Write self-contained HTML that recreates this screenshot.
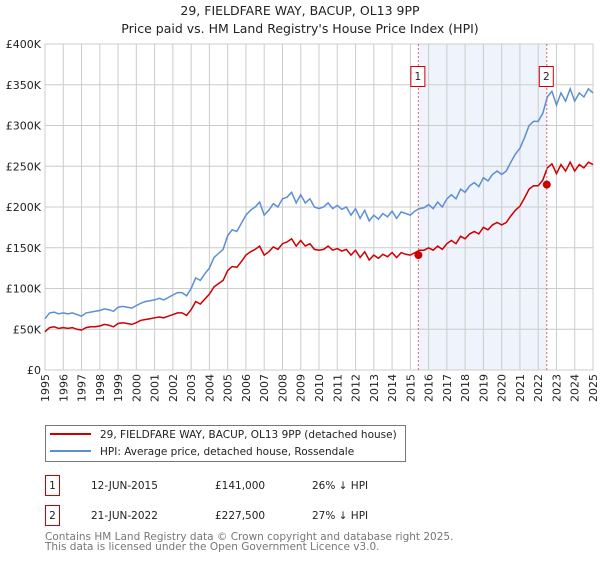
<!DOCTYPE html>
<html><head><meta charset="utf-8"><style>
body{margin:0;background:#fff;font-family:"Liberation Sans","DejaVu Sans",sans-serif;}
svg text{font-family:"DejaVu Sans","Liberation Sans",sans-serif;}
</style></head><body>
<svg id="c" width="600" height="560" viewBox="0 0 600 560" xmlns="http://www.w3.org/2000/svg">
<text x="300" y="15" text-anchor="middle" font-size="12.5" fill="#222">29, FIELDFARE WAY, BACUP, OL13 9PP</text>
<text x="300" y="33" text-anchor="middle" font-size="12.5" fill="#222">Price paid vs. HM Land Registry's House Price Index (HPI)</text>
<g id="grid"></g><g id="marks"></g><g id="axes"></g>
<g>
<rect x="45.5" y="425.5" width="360" height="36" fill="#fff" stroke="#777"/>
<line x1="50" y1="434" x2="91" y2="434" stroke="#cc0000" stroke-width="2"/>
<text x="100" y="438" font-size="10.5" fill="#222">29, FIELDFARE WAY, BACUP, OL13 9PP (detached house)</text>
<line x1="50" y1="451" x2="91" y2="451" stroke="#5b8fd4" stroke-width="2"/>
<text x="100" y="455" font-size="10.5" fill="#222">HPI: Average price, detached house, Rossendale</text>
</g>
<g font-size="10.5" fill="#222">
<rect x="45.5" y="475.5" width="14" height="20" fill="#fff" stroke="#cc0000"/><text x="52.5" y="489" text-anchor="middle">1</text>
<text x="91" y="489">12-JUN-2015</text><text x="215" y="489">£141,000</text><text x="312" y="489">26% ↓ HPI</text>
<rect x="45.5" y="505.5" width="14" height="20" fill="#fff" stroke="#cc0000"/><text x="52.5" y="519" text-anchor="middle">2</text>
<text x="91" y="519">21-JUN-2022</text><text x="215" y="519">£227,500</text><text x="312" y="519">27% ↓ HPI</text>
</g>
<text x="45" y="540" font-size="10.5" fill="#777">Contains HM Land Registry data © Crown copyright and database right 2025.</text>
<text x="45" y="550" font-size="10.5" fill="#777">This data is licensed under the Open Government Licence v3.0.</text>
</svg>
<script>
const yTicks=[0,50000,100000,150000,200000,250000,300000,350000,400000];
const yTickLabels=["£0","£50K","£100K","£150K","£200K","£250K","£300K","£350K","£400K"];
const xYears=[1995,1996,1997,1998,1999,2000,2001,2002,2003,2004,2005,2006,2007,2008,2009,2010,2011,2012,2013,2014,2015,2016,2017,2018,2019,2020,2021,2022,2023,2024,2025];
const seriesStart=1995;
const hpiK=[63,70,71,69,70,69,70,68,66,70,71,72,73,75,74,72,77,78,77,76,79,82,84,85,86,88,86,89,92,95,95,91,100,113,110,118,125,138,143,148,165,172,170,180,190,196,200,206,190,196,204,200,210,212,218,205,215,205,210,200,198,200,205,198,202,197,200,190,198,186,196,183,190,185,192,188,195,186,194,192,190,195,198,199,203,198,206,200,210,215,210,222,218,226,230,225,236,232,240,244,240,244,255,265,272,285,300,305,305,315,335,342,325,340,330,345,330,340,335,345,340];
const priceK=[47,52,53,51,52,51,52,50,49,52,53,53,54,56,55,53,57,58,57,56,58,61,62,63,64,65,64,66,68,70,70,67,74,84,81,87,93,102,106,110,122,127,126,133,141,145,148,152,141,145,151,148,155,157,161,152,159,152,155,148,147,148,152,147,149,146,148,141,147,138,145,135,141,137,142,139,144,138,144,142,141,144,147,147,150,147,152,148,155,159,155,164,161,167,170,167,175,172,178,181,178,181,189,196,201,211,222,226,226,233,248,253,241,252,244,255,244,252,248,255,252];
const saleDates=[2015.44,2022.47];
const salePrices=[141000,227500];
const saleLabels=["1","2"];

const NS="http://www.w3.org/2000/svg";
const X0=45,X1=593,Y0=370,Y1=44;
const xs=t=>X0+(t-1995)/(2025-1995)*(X1-X0);
const ys=v=>Y0-v/400000*(Y0-Y1);
function mk(tag,attrs,parent){const e=document.createElementNS(NS,tag);for(const k in attrs)e.setAttribute(k,attrs[k]);parent.appendChild(e);return e;}
const grid=document.getElementById('grid'),marks=document.getElementById('marks'),axes=document.getElementById('axes');
// shaded period
const sh=mk('rect',{x:xs(saleDates[0]),y:Y1,width:xs(saleDates[1])-xs(saleDates[0]),height:Y0-Y1,fill:'#eef3fc'},grid);


yTicks.forEach((v,i)=>{
  const l=mk('line',{x1:X0,x2:X1,y1:ys(v),y2:ys(v),stroke:'#cccccc'},grid);
  
  
  const t=mk('text',{x:X0-4,y:ys(v)+4,'text-anchor':'end','font-size':'11',fill:'#222'},axes);
  t.textContent=yTickLabels[i];
  
  
});
xYears.forEach(yr=>{
  const l=mk('line',{x1:xs(yr),x2:xs(yr),y1:Y1,y2:Y0,stroke:'#cccccc'},grid);
  
  
  const t=mk('text',{x:0,y:0,'text-anchor':'end','font-size':'11',fill:'#222',transform:`translate(${xs(yr)+4},${Y0+4}) rotate(-90)`},axes);
  t.textContent=yr;
  
  
});
const br=mk('rect',{x:X0,y:Y1,width:X1-X0,height:Y0-Y1,fill:'none',stroke:'#cccccc'},grid);


function pts(arr){return arr.map((v,i)=>xs(seriesStart+i*0.25).toFixed(1)+','+ys(v*1000).toFixed(1)).join(' ');}
const hp=mk('polyline',{points:pts(hpiK),fill:'none',stroke:'#5b8fd4','stroke-width':1.5},marks);


const pp=mk('polyline',{points:pts(priceK),fill:'none',stroke:'#cc0000','stroke-width':1.5},marks);


saleDates.forEach((d,i)=>{
  const x=xs(d);
  const vl=mk('line',{x1:x,x2:x,y1:Y1,y2:Y0,stroke:'#e06666','stroke-dasharray':'2,2'},marks);
  
  
  const bx=mk('rect',{x:x-7.5,y:66.5,width:14,height:20,fill:'#fff',stroke:'#cc0000'},marks);
  
  
  const bt=mk('text',{x:x-0.5,y:80,'text-anchor':'middle','font-size':'10.5',fill:'#222'},marks);
  bt.textContent=saleLabels[i];
  
  
  const c=mk('circle',{cx:x,cy:ys(salePrices[i]),r:4,fill:'#cc0000'},marks);
  
  
});
</script>
</body></html>
